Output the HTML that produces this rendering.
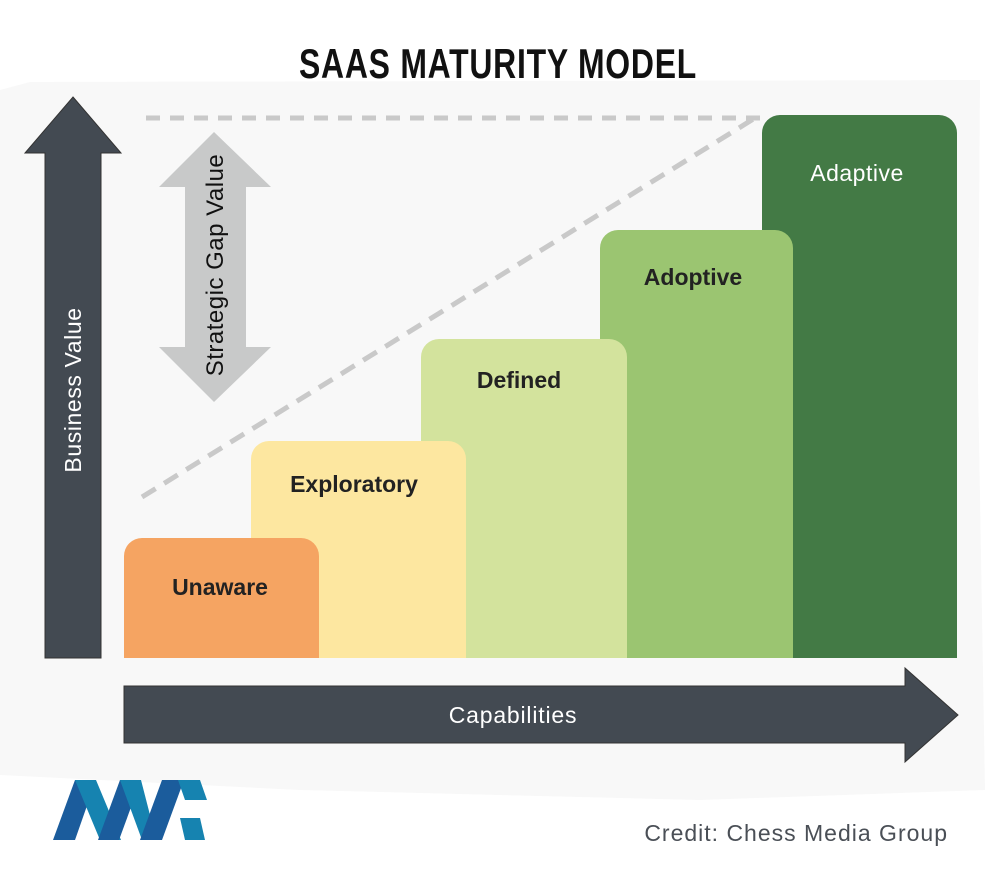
<!DOCTYPE html>
<html><head><meta charset="utf-8"><style>
html,body{margin:0;padding:0;background:#fff;}
svg{display:block;}
text{font-family:"Liberation Sans","DejaVu Sans",sans-serif;}
</style></head><body>
<svg width="1000" height="878" viewBox="0 0 1000 878" xmlns="http://www.w3.org/2000/svg">
<rect width="1000" height="878" fill="#fff"/>
<path d="M30 82 L980 80 L978 380 L985 790 L700 800 L300 790 L0 775 L0 90 Z" fill="#f8f8f8"/>
<text x="498" y="78" font-size="42" font-weight="bold" text-anchor="middle" fill="#111" transform="translate(498 0) scale(0.76 1) translate(-498 0)" style="letter-spacing:1px">SAAS MATURITY MODEL</text>
<line x1="146" y1="118" x2="760" y2="118" stroke="#c9c9c9" stroke-width="5" stroke-dasharray="14 10"/>
<line x1="142" y1="497" x2="755" y2="118" stroke="#c9c9c9" stroke-width="5" stroke-dasharray="16 10"/>
<path d="M73 97 L121 153 L101 153 L101 658 L45 658 L45 153 L25 153 Z" fill="#434a52" stroke="#333" stroke-width="1"/>
<text transform="translate(81 390) rotate(-90)" font-size="23" fill="#fff" text-anchor="middle" style="letter-spacing:0.6px">Business Value</text>
<path d="M214 132 L271 187 L246 187 L246 347 L271 347 L214 402 L159 347 L185 347 L185 187 L159 187 Z" fill="#c8c9c9"/>
<text transform="translate(223 265) rotate(-90)" font-size="24" fill="#111" text-anchor="middle" style="letter-spacing:0.5px">Strategic Gap Value</text>
<rect x="762" y="115" width="195" height="543" rx="18" fill="#437a45"/>
<rect x="762" y="640" width="195" height="18" fill="#437a45"/>
<rect x="600" y="230" width="193" height="428" rx="18" fill="#9bc571"/>
<rect x="600" y="640" width="193" height="18" fill="#9bc571"/>
<rect x="421" y="339" width="206" height="319" rx="18" fill="#d3e39d"/>
<rect x="421" y="640" width="206" height="18" fill="#d3e39d"/>
<rect x="251" y="441" width="215" height="217" rx="18" fill="#fde7a0"/>
<rect x="251" y="640" width="215" height="18" fill="#fde7a0"/>
<rect x="124" y="538" width="195" height="120" rx="18" fill="#f5a462"/>
<rect x="124" y="640" width="195" height="18" fill="#f5a462"/>
<g font-size="23" font-weight="bold" text-anchor="middle" fill="#222">
<text x="220" y="595">Unaware</text>
<text x="354" y="492">Exploratory</text>
<text x="519" y="388">Defined</text>
<text x="693" y="285">Adoptive</text>
<text x="857" y="181" fill="#fff" font-weight="normal" style="letter-spacing:0.5px">Adaptive</text>
</g>
<path d="M124 686 L905 686 L905 668 L958 715 L905 762 L905 743 L124 743 Z" fill="#434a52" stroke="#333" stroke-width="1"/>
<text x="513" y="723" font-size="23" fill="#fff" text-anchor="middle" style="letter-spacing:0.8px">Capabilities</text>
<text x="948" y="841" font-size="23" fill="#4a4f56" text-anchor="end" style="letter-spacing:1px">Credit: Chess Media Group</text>
<g>
<polygon points="53,840 75,780 96,780 75,840" fill="#1b5c9c"/>
<polygon points="75,780 96,780 121,840 100,840" fill="#1683b0"/>
<polygon points="98,840 120,780 141,780 119,840" fill="#1b5c9c"/>
<polygon points="120,780 141,780 150,815 142,840" fill="#1683b0"/>
<polygon points="140,840 162,780 184,780 162,840" fill="#1b5c9c"/>
<polygon points="178,780 200,780 207,800 185,800" fill="#1683b0"/>
<polygon points="180,818 200,818 205,840 185,840" fill="#1683b0"/>
</g>
</svg>
</body></html>
